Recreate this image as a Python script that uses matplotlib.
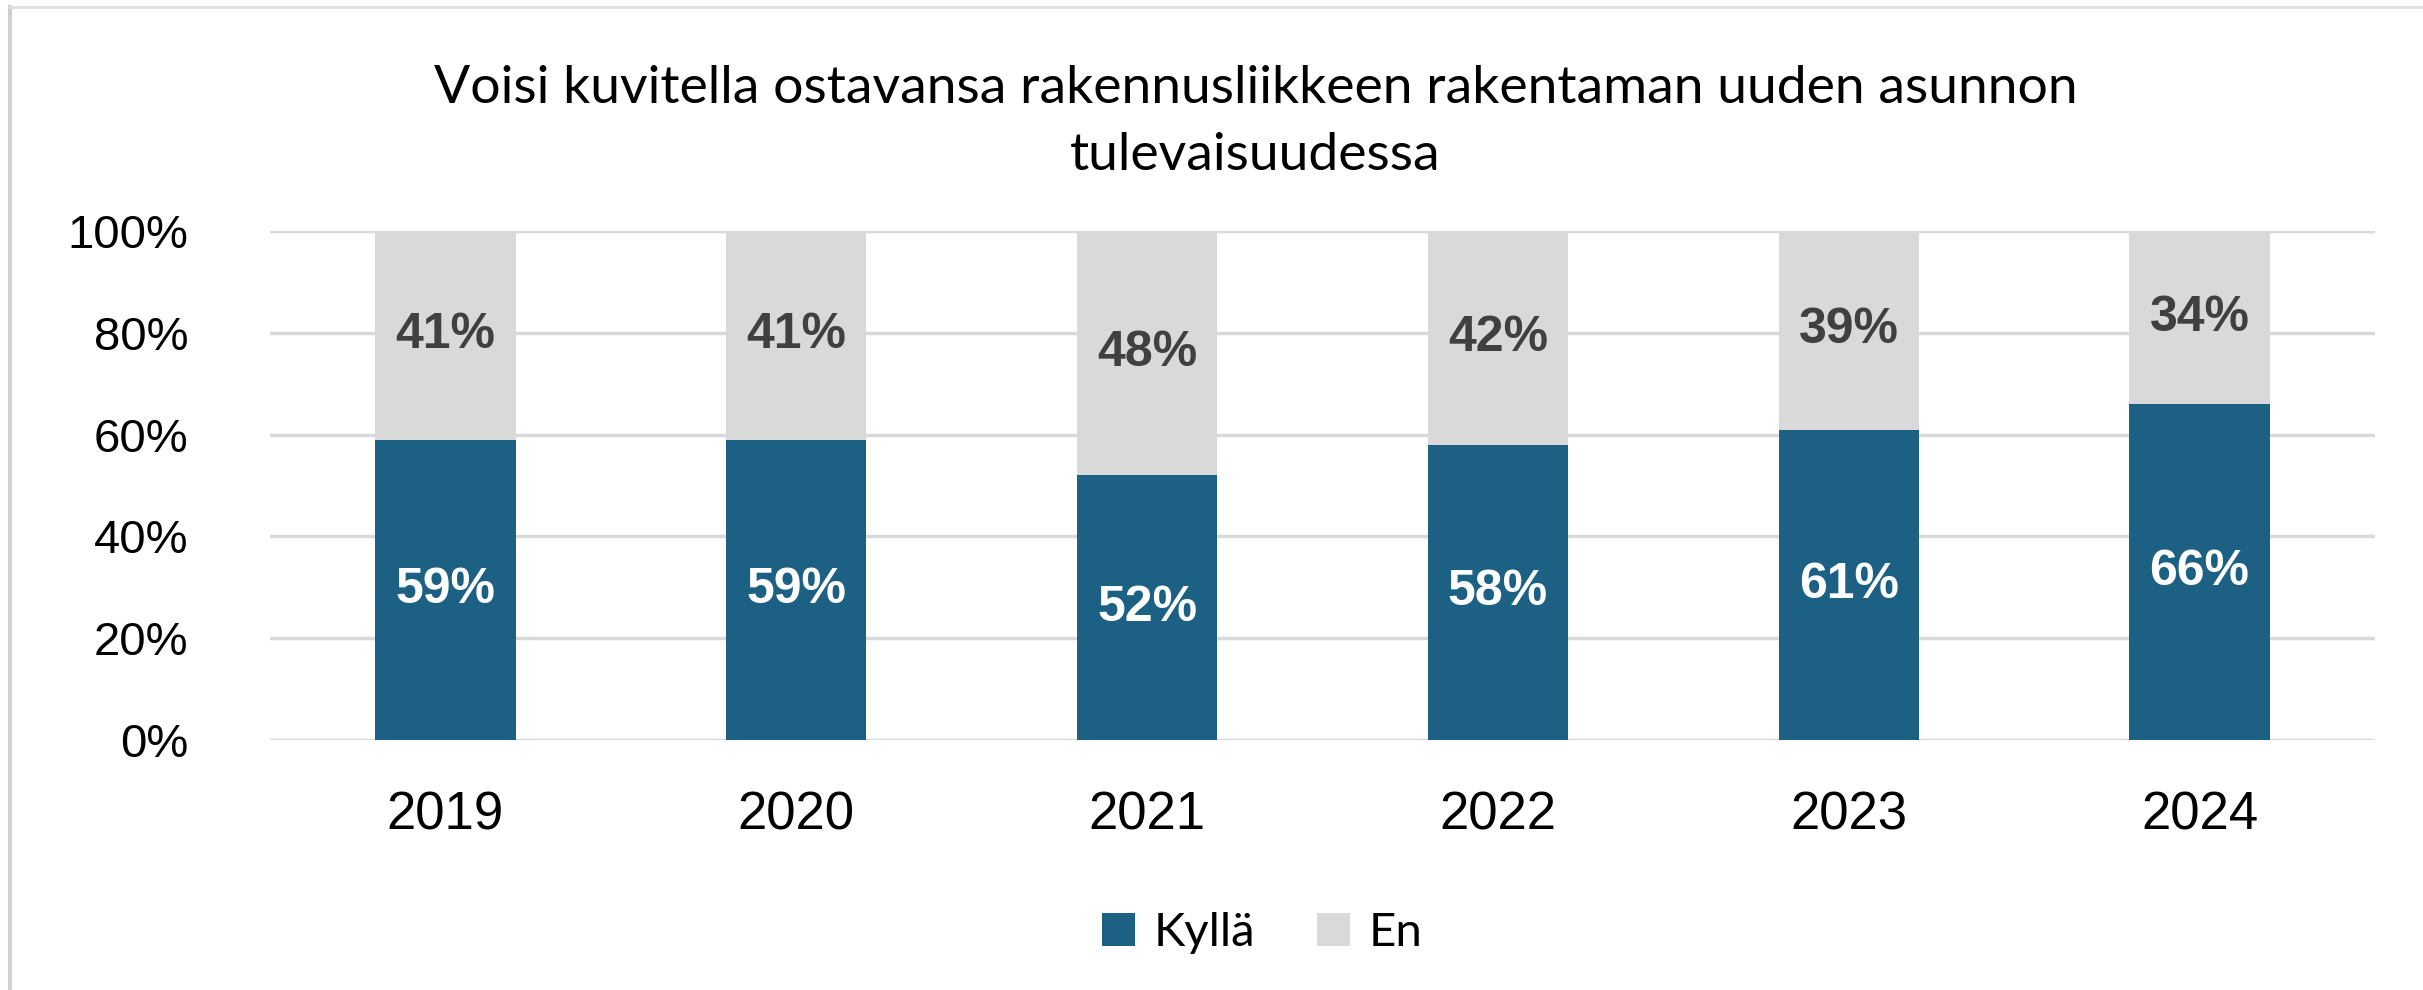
import matplotlib.pyplot as plt
import numpy as np
from matplotlib.lines import Line2D

# chart data
years = ['2019', '2020', '2021', '2022', '2023', '2024']
kylla = [59, 59, 52, 58, 61, 66]
en = [41, 41, 48, 42, 39, 34]
yticks = [0, 20, 40, 60, 80, 100]

title = 'Voisi kuvitella ostavansa rakennusliikkeen rakentaman uuden asunnon\ntulevaisuudessa'

BLUE = '#1c6184'
GRAY = '#d9d9d9'

W, H = 2423, 990
fig = plt.figure(figsize=(W / 100, H / 100), dpi=100)
fig.patch.set_facecolor('white')

# plot area in pixels: x 270..2375, y 231..740
ax = fig.add_axes([270 / W, 1 - 740 / H, 2105 / W, 509 / H])

x = np.arange(len(years))
ax.bar(x, kylla, width=0.40, color=BLUE, label='Kyllä', zorder=3)
ax.bar(x, en, width=0.40, bottom=kylla, color=GRAY, label='En', zorder=3)

for i in range(len(years)):
    ax.text(x[i], kylla[i] / 2, f'{kylla[i]}%', ha='center', va='center',
            color='white', fontsize=36, fontweight='bold', family='Liberation Sans', zorder=4)
    ax.text(x[i], kylla[i] + en[i] / 2, f'{en[i]}%', ha='center', va='center',
            color='#404040', fontsize=36, fontweight='bold', family='Liberation Sans', zorder=4)

ax.set_xlim(-0.5, len(years) - 0.5)
ax.set_ylim(0, 100)
ax.set_yticks(yticks)
ax.set_yticklabels([f'{v}%' for v in yticks], family='Liberation Sans', fontsize=34)
ax.set_xticks(x)
ax.set_xticklabels(years, family='Liberation Sans', fontsize=38)
ax.tick_params(axis='both', length=0)
ax.tick_params(axis='y', pad=59)
ax.tick_params(axis='x', pad=36)
ax.yaxis.grid(True, color='#d9d9d9', linewidth=2.5, zorder=0)
for s in ax.spines.values():
    s.set_visible(False)

fig.text(0.5 + 44 / W, 1 - 122 / H, title, ha='center', va='center', fontsize=38.5,
         family='Lato', linespacing=1.52)

leg = fig.legend(loc='center', bbox_to_anchor=(0.5 + 51 / W, 1 - 933 / H), ncol=2, frameon=False,
                 prop={'family': 'Lato', 'size': 34}, handlelength=0.7, handleheight=0.7,
                 handletextpad=0.4, columnspacing=1.3)

# light border on top and left
fig.add_artist(Line2D([10 / W, 10 / W], [0, 1 - 7 / H], transform=fig.transFigure,
                      color='#d0d0d0', linewidth=3))
fig.add_artist(Line2D([10 / W, 1], [1 - 7 / H, 1 - 7 / H], transform=fig.transFigure,
                      color='#e0e0e0', linewidth=2))

fig.savefig('out.png', dpi=100, facecolor='white')
